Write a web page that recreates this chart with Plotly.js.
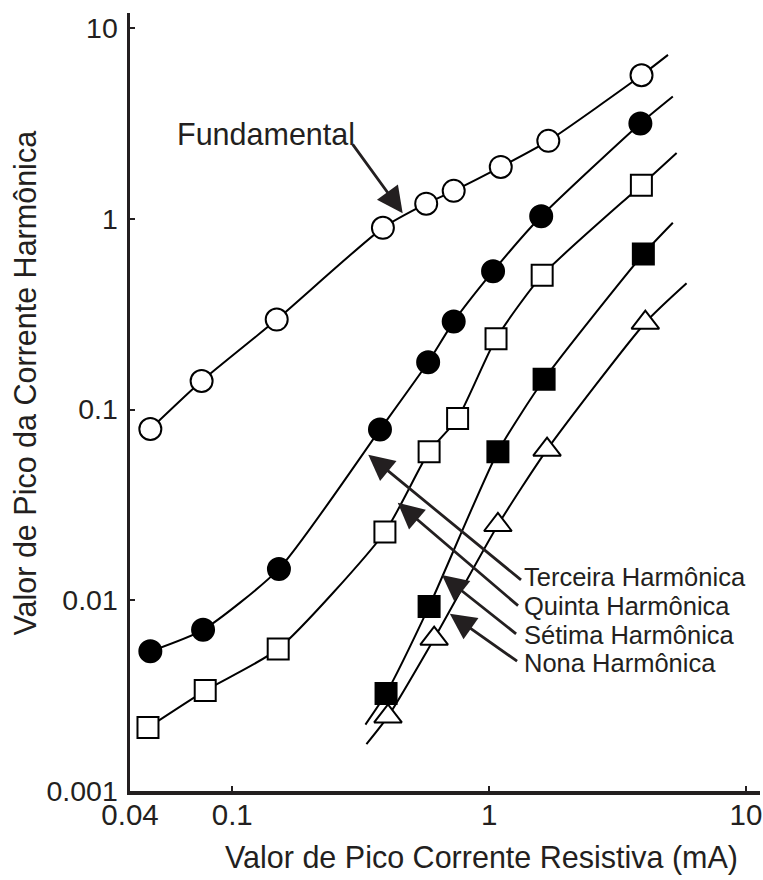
<!DOCTYPE html>
<html>
<head>
<meta charset="utf-8">
<script src="https://cdn.plot.ly/plotly-3.0.1.min.js"></script>
<style>html,body{margin:0;padding:0;background:#fff;}#chart{width:763px;height:880px;}</style>
</head>
<body>
<div id="chart"></div>
<script>
// ---- data (x: peak resistive current, mA; y: peak harmonic current) ----
const fundX = [0.048, 0.076, 0.149, 0.386, 0.569, 0.728, 1.11, 1.70, 3.92];
const fundY = [0.079, 0.141, 0.296, 0.896, 1.20, 1.40, 1.87, 2.56, 5.65];
const fundLineEndX = [4.97];
const fundLineEndY = [7.23];

const thirdX = [0.048, 0.077, 0.152, 0.376, 0.579, 0.728, 1.036, 1.595, 3.88];
const thirdY = [0.0054, 0.0070, 0.0146, 0.0785, 0.177, 0.289, 0.531, 1.03, 3.16];
const thirdLineEndX = [5.19];
const thirdLineEndY = [4.37];

const fifthX = [0.047, 0.0785, 0.151, 0.393, 0.584, 0.754, 1.064, 1.609, 3.915];
const fifthY = [0.00215, 0.00336, 0.00556, 0.0228, 0.0601, 0.0897, 0.235, 0.505, 1.50];
const fifthLineEndX = [5.37];
const fifthLineEndY = [2.21];

const seventhX = [0.397, 0.584, 1.082, 1.637, 3.985];
const seventhY = [0.00324, 0.00928, 0.0601, 0.144, 0.653];
const seventhLineStartX = [0.330];
const seventhLineStartY = [0.00223];
const seventhLineEndX = [5.19];
const seventhLineEndY = [0.953];

const ninthX = [0.404, 0.611, 1.082, 1.681, 4.056];
const ninthY = [0.00246, 0.00629, 0.0248, 0.0616, 0.285];
const ninthLineStartX = [0.333];
const ninthLineStartY = [0.00176];
const ninthLineEndX = [5.87];
const ninthLineEndY = [0.4585];

const xTickVals = [0.04, 0.1, 1, 10];
const xTickText = ['0.04', '0.1', '1', '10'];
const yTickVals = [0.001, 0.01, 0.1, 1, 10];
const yTickText = ['0.001', '0.01', '0.1', '1', '10'];

const seriesLabels = ['Fundamental', 'Terceira Harmônica', 'Quinta Harmônica', 'Sétima Harmônica', 'Nona Harmônica'];
const xTitle = 'Valor de Pico Corrente Resistiva (mA)';
const yTitle = 'Valor de Pico da Corrente Harmônica';

// ---- styling ----
const INK = '#231f20';
const FONT = '"Liberation Sans", Arial, Helvetica, sans-serif';

function curve(xs, ys) {
  return {x: xs, y: ys, type: 'scatter', mode: 'lines', hoverinfo: 'skip',
    line: {color: '#000', width: 2, shape: 'spline', smoothing: 0.6}, showlegend: false};
}
function marks(xs, ys, symbol, fill, size) {
  return {x: xs, y: ys, type: 'scatter', mode: 'markers', showlegend: false,
    marker: {symbol: symbol, size: size, color: fill, line: {color: '#000', width: 2}}};
}

const traces = [
  curve(fundX.concat(fundLineEndX), fundY.concat(fundLineEndY)),
  curve(thirdX.concat(thirdLineEndX), thirdY.concat(thirdLineEndY)),
  curve(fifthX.concat(fifthLineEndX), fifthY.concat(fifthLineEndY)),
  curve(seventhLineStartX.concat(seventhX, seventhLineEndX), seventhLineStartY.concat(seventhY, seventhLineEndY)),
  curve(ninthLineStartX.concat(ninthX, ninthLineEndX), ninthLineStartY.concat(ninthY, ninthLineEndY)),
  marks(fundX, fundY, 'circle', '#fff', 22),
  marks(thirdX, thirdY, 'circle', '#000', 22),
  marks(fifthX, fifthY, 'square', '#fff', 21),
  marks(seventhX, seventhY, 'square', '#000', 21),
  marks(ninthX, ninthY, 'triangle-up', '#fff', 24)
];

// arrow annotations (positions in log10 axis units)
function arrow(hx, hy, tx, ty) {
  return {x: hx, y: hy, ax: tx, ay: ty, xref: 'x', yref: 'y', axref: 'x', ayref: 'y',
    text: '', showarrow: true, arrowhead: 2, arrowsize: 1.85, arrowwidth: 2.8, arrowcolor: INK};
}
function label(text, lx, ly, anchor, size) {
  return {x: lx, y: ly, xref: 'x', yref: 'y', text: text, showarrow: false,
    xanchor: anchor, yanchor: 'middle', font: {family: FONT, size: size, color: INK}};
}

const annotations = [
  arrow(-0.3365, 0.0291, -0.5354, 0.398),
  arrow(-0.4704, -1.2368, 0.130, -1.900),
  arrow(-0.3556, -1.4895, 0.1185, -2.035),
  arrow(-0.1836, -1.868, 0.1109, -2.182),
  arrow(-0.153, -2.0707, 0.1147, -2.325),
  label(seriesLabels[0], -0.868, 0.4466, 'center', 30.5),
  label(seriesLabels[1], 0.128, -1.880, 'left', 25.5),
  label(seriesLabels[2], 0.128, -2.030, 'left', 25.5),
  label(seriesLabels[3], 0.128, -2.180, 'left', 25.5),
  label(seriesLabels[4], 0.128, -2.330, 'left', 25.5),
  {x: 0.5587, y: -0.085, xref: 'paper', yref: 'paper', text: xTitle, showarrow: false,
    xanchor: 'center', yanchor: 'middle', font: {family: FONT, size: 30.5, color: INK}},
  {x: -0.1667, y: 0.525, xref: 'paper', yref: 'paper', text: yTitle, showarrow: false, textangle: -90,
    xanchor: 'center', yanchor: 'middle', font: {family: FONT, size: 30.5, color: INK}}
];

const layout = {
  width: 763, height: 880,
  margin: {l: 130, r: 3, t: 13, b: 89, pad: 0},
  paper_bgcolor: '#fff', plot_bgcolor: '#fff',
  showlegend: false,
  font: {family: FONT, color: INK, size: 29},
  xaxis: {
    type: 'log', range: [Math.log10(0.04), 1.0545], automargin: false,
    showgrid: false, zeroline: false, showline: true, linecolor: INK, linewidth: 3.5,
    ticks: 'inside', ticklen: 5, tickwidth: 2, tickcolor: INK,
    tickvals: xTickVals, ticktext: xTickText, ticklabeloverflow: 'allow',
    ticklabelstandoff: -5,
    tickfont: {family: FONT, size: 29.5, color: INK}
  },
  yaxis: {
    type: 'log', range: [-3, 1.0786], automargin: false,
    showgrid: false, zeroline: false, showline: true, linecolor: INK, linewidth: 3.5,
    ticks: 'inside', ticklen: 5, tickwidth: 2, tickcolor: INK,
    tickvals: yTickVals, ticktext: yTickText, ticklabeloverflow: 'allow',
    ticklabelstandoff: 3,
    tickfont: {family: FONT, size: 28.5, color: INK}
  },
  annotations: annotations
};

Plotly.newPlot('chart', traces, layout, {staticPlot: true, displayModeBar: false});
</script>
</body>
</html>
